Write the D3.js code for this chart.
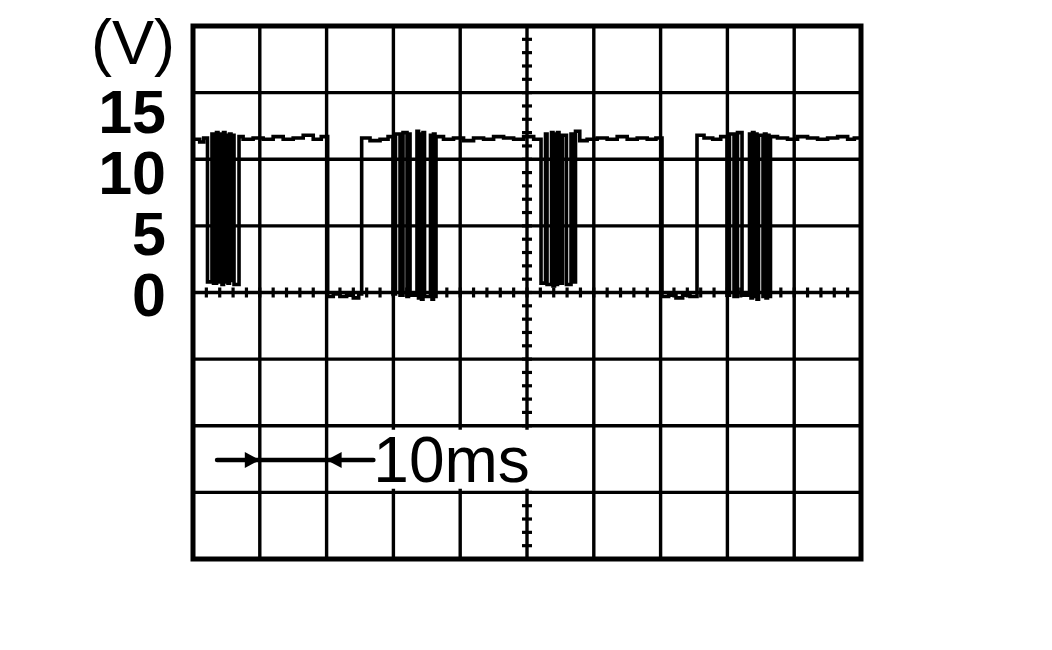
<!DOCTYPE html>
<html>
<head>
<meta charset="utf-8">
<script src="https://cdn.jsdelivr.net/npm/d3@7"></script>
<style>
  html, body { margin: 0; padding: 0; background: #fff; }
  svg { display: block; }
</style>
</head>
<body>
<div id="chart"></div>
<script>
// ---- data ----
const timeDomain = [0, 100];           // ms, 10 ms / division
const voltDomain = [-20, 20];          // V, 5 V / division
const yTickLabels = ["15", "10", "5", "0"];
const yTickValues = [15, 10, 5, 0];
const unitLabel = "(V)";
const timeLabel = "10ms";
const arrowTips = [10, 20];            // ms: the one-division marker
const arrowSpan = [3.6, 27];           // ms
// waveform samples [ms, V] (step trace)
const waveform = [
  [0.3, 11.5], [1.0, 11.3], [1.6, 11.6],
  [2.17, 0.8], [2.84, 11.9], [3.07, 0.7], [3.52, 12.0], [3.74, 0.8], [4.12, 11.9], [4.34, 0.6],
  [4.57, 12.0], [4.79, 0.8], [5.01, 11.8], [5.24, 0.7], [5.46, 11.9], [5.69, 0.9], [5.91, 11.8],
  [6.14, 0.6], [6.89, 11.7],
  [7.5, 11.5], [9.0, 11.6], [10.5, 11.5], [12.0, 11.7], [13.5, 11.5], [15.0, 11.6], [16.5, 11.8],
  [18.0, 11.5], [19.2, 11.7],
  [20.16, -0.3], [21.0, -0.1], [22.0, -0.3], [23.0, -0.2], [24.0, -0.4], [24.8, -0.1],
  [25.25, 11.6], [26.5, 11.4], [28.0, 11.5], [29.2, 11.7],
  [29.94, -0.1], [30.31, 11.9], [30.99, -0.2], [31.44, 12.0], [32.04, -0.3], [32.26, 11.9],
  [32.49, -0.2], [33.53, 12.1], [33.76, -0.4], [33.98, 11.9], [34.21, -0.5], [34.43, 12.0],
  [34.66, -0.3], [35.55, 11.8], [35.78, -0.5], [36.0, 11.9], [36.23, -0.3], [36.38, 11.7],
  [37.5, 11.5], [39.0, 11.6], [40.5, 11.4], [42.0, 11.6], [43.5, 11.5], [45.0, 11.7],
  [46.5, 11.6], [48.0, 11.5], [49.5, 11.7], [51.0, 11.5],
  [52.10, 0.7], [52.77, 11.9], [53.00, 0.6], [53.67, 12.0], [53.89, 0.5], [54.12, 11.9],
  [54.34, 0.6], [54.57, 12.0], [54.79, 0.7], [55.31, 11.8], [55.91, 0.6], [56.59, 11.9],
  [57.11, 0.8], [57.26, 12.1],
  [57.9, 11.4], [59.0, 11.5], [60.5, 11.6], [62.0, 11.5], [63.5, 11.7], [65.0, 11.5],
  [66.5, 11.6], [68.0, 11.5], [69.3, 11.6],
  [70.21, -0.3], [71.2, -0.2], [72.3, -0.4], [73.3, -0.2], [74.4, -0.3],
  [75.45, 11.8], [76.5, 11.6], [77.8, 11.5], [79.0, 11.7],
  [79.94, -0.2], [80.31, 11.9], [80.99, -0.3], [81.51, 12.0], [82.19, -0.2], [83.31, 11.9],
  [83.53, -0.4], [83.76, 12.0], [83.98, -0.3], [84.21, 11.9], [84.43, -0.5], [84.66, 11.8],
  [85.33, -0.3], [85.55, 11.9], [85.78, -0.4], [86.00, 11.8], [86.23, -0.3], [86.45, 11.7],
  [87.5, 11.6], [89.0, 11.5], [90.5, 11.7], [92.0, 11.6], [93.5, 11.5], [95.0, 11.6],
  [96.5, 11.7], [98.0, 11.5], [99.0, 11.6], [100.2, 11.6]
];

// ---- layout ----
const W = 1052, H = 650;
const box = { left: 193, right: 861, top: 26, bottom: 559 };

const svg = d3.select("#chart").append("svg")
  .attr("width", W).attr("height", H)
  .attr("viewBox", `0 0 ${W} ${H}`);
svg.append("rect").attr("width", W).attr("height", H).attr("fill", "#fff");

const x = d3.scaleLinear().domain(timeDomain).range([box.left, box.right]);
const y = d3.scaleLinear().domain(voltDomain).range([box.bottom, box.top]);

// grid
const g = svg.append("g").attr("stroke", "#000").attr("fill", "none");
const vLines = d3.range(timeDomain[0], timeDomain[1] + 0.001, 10);
const hLines = d3.range(voltDomain[0], voltDomain[1] + 0.001, 5);
g.selectAll("line.v").data(vLines).join("line")
  .attr("x1", d => x(d)).attr("x2", d => x(d))
  .attr("y1", box.top).attr("y2", box.bottom)
  .attr("stroke-width", 3.4);
g.selectAll("line.h").data(hLines).join("line")
  .attr("y1", d => y(d)).attr("y2", d => y(d))
  .attr("x1", box.left).attr("x2", box.right)
  .attr("stroke-width", 3.4);

// center ticks
const xMinor = d3.range(timeDomain[0], timeDomain[1] + 0.001, 2);
const yMinor = d3.range(voltDomain[0], voltDomain[1] + 0.001, 1);
g.selectAll("line.xt").data(xMinor).join("line")
  .attr("x1", d => x(d)).attr("x2", d => x(d))
  .attr("y1", y(0) - 5).attr("y2", y(0) + 5)
  .attr("stroke-width", 3.2);
g.selectAll("line.yt").data(yMinor).join("line")
  .attr("y1", d => y(d)).attr("y2", d => y(d))
  .attr("x1", x(50) - 5).attr("x2", x(50) + 5)
  .attr("stroke-width", 3.2);

// outer border
svg.append("rect")
  .attr("x", box.left).attr("y", box.top)
  .attr("width", box.right - box.left).attr("height", box.bottom - box.top)
  .attr("fill", "none").attr("stroke", "#000").attr("stroke-width", 5);

// waveform
const line = d3.line()
  .x(d => x(d[0])).y(d => y(d[1]))
  .curve(d3.curveStepAfter);
svg.append("path")
  .datum(waveform)
  .attr("d", line)
  .attr("fill", "none").attr("stroke", "#000")
  .attr("stroke-width", 3.6).attr("stroke-linejoin", "miter");

// y labels
const labelY = d3.scaleLinear().domain([15, 0]).range([133, 316]);
svg.append("g").selectAll("text").data(yTickValues).join("text")
  .attr("x", 166).attr("y", d => labelY(d))
  .attr("text-anchor", "end")
  .attr("font-family", "'Liberation Sans', Arial, sans-serif")
  .attr("font-weight", "bold").attr("font-size", 61)
  .text((d, i) => yTickLabels[i]);

svg.append("text")
  .attr("x", 91).attr("y", 64)
  .attr("font-family", "'Liberation Sans', Arial, sans-serif")
  .attr("font-size", 63)
  .text(unitLabel);

// time marker annotation
const ay = y(-12.5) + 1;
svg.append("rect")
  .attr("x", x(arrowSpan[1]) - 1).attr("y", y(-10) + 4)
  .attr("width", 170).attr("height", 59)
  .attr("fill", "#fff");
svg.append("line")
  .attr("x1", x(arrowSpan[0])).attr("x2", x(arrowSpan[1]))
  .attr("y1", ay).attr("y2", ay)
  .attr("stroke", "#000").attr("stroke-width", 4.5).attr("stroke-linecap", "round");
const tipR = x(arrowTips[0]), tipL = x(arrowTips[1]);
svg.append("path")
  .attr("d", `M${tipR},${ay} L${tipR - 15},${ay - 8} L${tipR - 15},${ay + 8} Z`)
  .attr("fill", "#000");
svg.append("path")
  .attr("d", `M${tipL},${ay} L${tipL + 15},${ay - 8} L${tipL + 15},${ay + 8} Z`)
  .attr("fill", "#000");
svg.append("text")
  .attr("x", x(arrowSpan[1])).attr("y", 482)
  .attr("font-family", "'Liberation Sans', Arial, sans-serif")
  .attr("font-size", 64)
  .text(timeLabel);
</script>
</body>
</html>
